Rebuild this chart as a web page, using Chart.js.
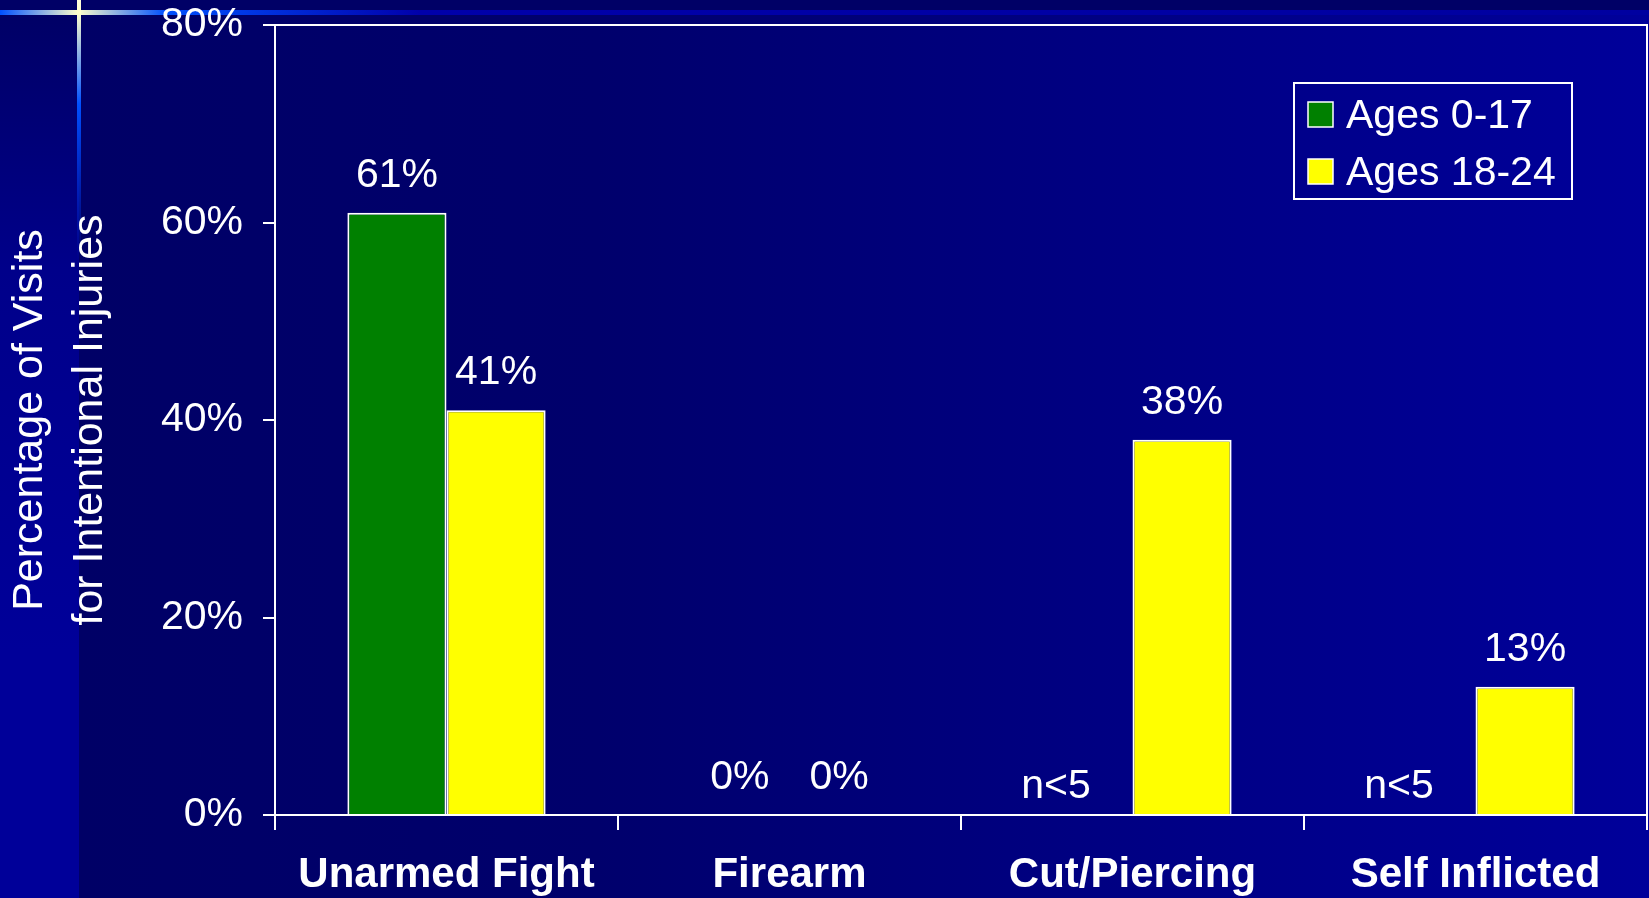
<!DOCTYPE html>
<html>
<head>
<meta charset="utf-8">
<script src="https://cdn.jsdelivr.net/npm/chart.js@4.4.1/dist/chart.umd.min.js"></script>
<style>
  html, body { margin: 0; padding: 0; background: #000066; }
  #wrap { width: 1649px; height: 898px; position: relative; }
</style>
</head>
<body>
<div id="wrap"><canvas id="c"></canvas></div>
<script>
// ---- Data ----
const categories = ['Unarmed Fight', 'Firearm', 'Cut/Piercing', 'Self Inflicted'];
const seriesNames = ['Ages 0-17', 'Ages 18-24'];
const ages0to17 = [61, 0, null, null];
const ages18to24 = [41, 0, 38, 13];
const labels0to17 = ['61%', '0%', 'n<5', 'n<5'];
const labels18to24 = ['41%', '0%', '38%', '13%'];
const yTickValues = [0, 20, 40, 60, 80];
const yTitleLines = ['Percentage of Visits', 'for Intentional Injuries'];

const FONT = '"Liberation Sans", Arial, Helvetica, sans-serif';
const seriesColors = ['#008000', '#ffff00'];
const valueLabels = [labels0to17, labels18to24];

const backgroundPlugin = {
  id: 'bg',
  beforeDraw(chart) {
    const ctx = chart.ctx;
    const W = chart.width, H = chart.height;
    ctx.save();
    ctx.fillStyle = '#000066';
    ctx.fillRect(0, 0, W, H);
    let g = ctx.createLinearGradient(78, 0, W, 0);
    g.addColorStop(0, '#000066');
    g.addColorStop(0.33, '#00006c');
    g.addColorStop(1, '#00009a');
    ctx.fillStyle = g;
    ctx.fillRect(79, 15, W - 79, H - 15);
    g = ctx.createLinearGradient(0, 15, 0, 650);
    g.addColorStop(0, '#000066');
    g.addColorStop(0.4, '#00008a');
    g.addColorStop(1, '#000099');
    ctx.fillStyle = g;
    ctx.fillRect(0, 15, 79, H - 15);
    g = ctx.createLinearGradient(0, 0, W, 0);
    g.addColorStop(0, '#0050ff');
    g.addColorStop(78 / W, '#ffffcc');
    g.addColorStop(165 / W, '#0050ff');
    g.addColorStop(420 / W, '#0000aa');
    g.addColorStop(1, '#0000a0');
    ctx.fillStyle = g;
    ctx.fillRect(0, 10, W, 5);
    g = ctx.createLinearGradient(0, 0, 0, 260);
    g.addColorStop(0, '#ffffdd');
    g.addColorStop(0.05, '#ffffcc');
    g.addColorStop(0.4, '#0050ff');
    g.addColorStop(1, 'rgba(0,60,255,0)');
    ctx.fillStyle = g;
    ctx.fillRect(77, 0, 4, 260);
    ctx.restore();
  }
};

const framePlugin = {
  id: 'frame',
  afterDraw(chart) {
    const ctx = chart.ctx;
    const a = chart.chartArea;
    ctx.save();
    ctx.strokeStyle = '#ffffff';
    ctx.lineWidth = 2;
    ctx.beginPath();
    ctx.moveTo(a.left - 12, a.top);
    ctx.lineTo(a.right, a.top);
    ctx.lineTo(a.right, a.bottom);
    ctx.stroke();

    const y0 = chart.scales.y.getPixelForValue(0);
    ctx.fillStyle = '#ffffff';
    ctx.font = '41px ' + FONT;
    ctx.textAlign = 'center';
    ctx.textBaseline = 'alphabetic';
    chart.data.datasets.forEach((ds, di) => {
      const meta = chart.getDatasetMeta(di);
      meta.data.forEach((el, i) => {
        const txt = valueLabels[di][i];
        if (!txt) return;
        const v = ds.data[i];
        if (v === null || v === undefined) {
          ctx.fillText(txt, el.x - 27, y0 - 17);
        } else {
          const top = chart.scales.y.getPixelForValue(v);
          ctx.fillText(txt, el.x, top - 26);
        }
      });
    });

    const bx = 1294, by = 83, bw = 278, bh = 116;
    ctx.lineWidth = 2;
    ctx.strokeRect(bx, by, bw, bh);
    ctx.textAlign = 'left';
    ctx.font = '41px ' + FONT;
    chart.data.datasets.forEach((ds, di) => {
      const base = 128 + di * 57;
      ctx.fillStyle = ds.backgroundColor;
      ctx.fillRect(1308, base - 26, 25, 25);
      ctx.strokeStyle = '#ffffff';
      ctx.lineWidth = 1.5;
      ctx.strokeRect(1308, base - 26, 25, 25);
      ctx.fillStyle = '#ffffff';
      ctx.fillText(ds.label, 1346, base);
    });
    ctx.restore();
  }
};

new Chart(document.getElementById('c'), {
  type: 'bar',
  data: {
    labels: categories,
    datasets: [
      { label: seriesNames[0], data: ages0to17, backgroundColor: seriesColors[0],
        borderColor: '#ffffff', borderWidth: 2 },
      { label: seriesNames[1], data: ages18to24, backgroundColor: seriesColors[1],
        borderColor: '#ffffff', borderWidth: 2 }
    ]
  },
  options: {
    responsive: true,
    maintainAspectRatio: false,
    animation: false,
    layout: { padding: { top: 25, right: 2, left: 0, bottom: 0 } },
    plugins: { legend: { display: false }, tooltip: { enabled: false } },
    datasets: { bar: { categoryPercentage: 0.578, barPercentage: 1.0 } },
    scales: {
      x: {
        offset: true,
        border: { color: '#ffffff', width: 2 },
        grid: { display: true, offset: true, drawOnChartArea: false, color: '#ffffff', lineWidth: 2, tickLength: 15 },
        ticks: { color: '#ffffff', font: { family: FONT, size: 42, weight: 'bold' }, padding: 20, maxRotation: 0 },
        afterFit(s) { s.height = 83; s.paddingLeft = 0; s.paddingRight = 0; }
      },
      y: {
        min: 0, max: 80,
        afterBuildTicks(s) { s.ticks = yTickValues.map(v => ({ value: v })); },
        border: { color: '#ffffff', width: 2 },
        grid: { display: true, drawOnChartArea: false, color: '#ffffff', lineWidth: 2, tickLength: 12 },
        ticks: { color: '#ffffff', font: { family: FONT, size: 41 }, padding: 20,
                 callback: v => v + '%' },
        title: { display: true, text: yTitleLines, color: '#ffffff',
                 font: { family: FONT, size: 43, lineHeight: 1.395 }, padding: 0 },
        afterFit(s) { s.width = 275; s.paddingTop = 0; s.paddingBottom = 0; }
      }
    }
  },
  plugins: [backgroundPlugin, framePlugin]
});
</script>
</body>
</html>
